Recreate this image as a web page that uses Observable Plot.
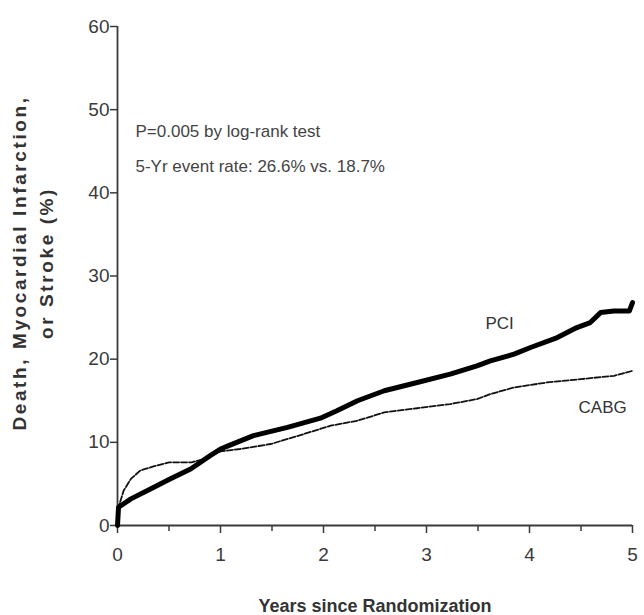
<!DOCTYPE html>
<html>
<head>
<meta charset="utf-8">
<script src="https://cdn.jsdelivr.net/npm/d3@7"></script>
<script src="https://cdn.jsdelivr.net/npm/@observablehq/plot@0.6"></script>
<style>
  html, body { margin: 0; padding: 0; background: #fff; }
  #chart svg { display: block; }
</style>
</head>
<body>
<div id="chart"></div>
<script>
// Years since randomization and cumulative event rate (%)
const pciYears = [0, 0.01, 0.13, 0.32, 0.51, 0.71, 0.90, 1.0, 1.08, 1.32, 1.65, 1.97, 2.13, 2.33, 2.59, 2.91, 3.23, 3.49, 3.62, 3.85, 4.01, 4.27, 4.46, 4.59, 4.69, 4.82, 4.97, 5.0];
const pciRate  = [0, 2.2, 3.2, 4.4, 5.6, 6.8, 8.4, 9.2, 9.6, 10.8, 11.8, 12.9, 13.8, 15.0, 16.2, 17.2, 18.2, 19.2, 19.8, 20.6, 21.4, 22.6, 23.8, 24.4, 25.6, 25.8, 25.8, 26.8];

const cabgYears = [0, 0.01, 0.06, 0.13, 0.22, 0.35, 0.50, 0.72, 0.85, 1.0, 1.19, 1.49, 1.81, 2.07, 2.33, 2.59, 2.91, 3.23, 3.49, 3.62, 3.85, 4.17, 4.50, 4.82, 5.0];
const cabgRate  = [0, 2.2, 4.2, 5.6, 6.6, 7.1, 7.6, 7.6, 8.0, 8.9, 9.2, 9.8, 11.0, 12.0, 12.6, 13.6, 14.1, 14.6, 15.2, 15.8, 16.6, 17.2, 17.6, 18.0, 18.6];

const xTicks = [0, 1, 2, 3, 4, 5];
const xMinorTicks = [0.5, 1.5, 2.5, 3.5, 4.5];
const yTicks = [0, 10, 20, 30, 40, 50, 60];

const seriesNames = ["PCI", "CABG"];
const yLabelLines = ["Death, Myocardial Infarction,", "or Stroke (%)"];
const xLabel = "Years since Randomization";
const annotationLines = ["P=0.005 by log-rank test", "5-Yr event rate: 26.6% vs. 18.7%"];

const pci = pciYears.map((t, i) => ({t, v: pciRate[i]}));
const cabg = cabgYears.map((t, i) => ({t, v: cabgRate[i]}));

const font = "'Liberation Sans', Arial, sans-serif";
const ink = "#3a3a3a";

const chart = Plot.plot({
  width: 644,
  height: 615,
  marginLeft: 117,
  marginRight: 12,
  marginTop: 26,
  marginBottom: 90,
  x: {domain: [0, 5]},
  y: {domain: [0, 60]},
  style: {fontFamily: font, fontSize: "19px", color: ink, background: "#fff"},
  marks: [
    Plot.axisY({ticks: yTicks, tickSize: 7, tickPadding: 1, label: null, stroke: ink, strokeWidth: 1.5}),
    Plot.axisX({ticks: xTicks, tickSize: 8, tickPadding: 14, tickFormat: d3.format("d"), label: null, stroke: ink, strokeWidth: 1.5}),
    Plot.axisX({ticks: xMinorTicks, tickSize: 6, tickFormat: () => "", label: null, stroke: ink, strokeWidth: 1.5}),
    Plot.ruleX([0], {stroke: ink, strokeWidth: 1.8}),
    Plot.ruleY([0], {stroke: ink, strokeWidth: 1.8}),
    Plot.line(cabg, {x: "t", y: "v", stroke: "#111", strokeWidth: 1.8, strokeDasharray: "6,2"}),
    Plot.line(pci, {x: "t", y: "v", stroke: "#000", strokeWidth: 5, strokeLinejoin: "round"}),
    Plot.text([seriesNames[0]], {x: 3.71, y: 24.3, text: d => d, fontSize: 17, fill: "#333"}),
    Plot.text([seriesNames[1]], {x: 4.71, y: 14.2, text: d => d, fontSize: 17, fill: "#333"}),
    Plot.text([annotationLines[0]], {frameAnchor: "top-left", dx: 18, dy: 105, lineAnchor: "middle", textAnchor: "start", text: d => d, fontSize: 17, fill: "#444"}),
    Plot.text([annotationLines[1]], {frameAnchor: "top-left", dx: 18, dy: 140, lineAnchor: "middle", textAnchor: "start", text: d => d, fontSize: 17, fill: "#444"}),
    Plot.text([yLabelLines[0]], {frameAnchor: "left", dx: -98, dy: -13, rotate: -90, textAnchor: "middle", lineAnchor: "middle", text: d => d, fontSize: 19, fontWeight: "bold", fill: "#333"}),
    Plot.text([yLabelLines[1]], {frameAnchor: "left", dx: -71, dy: -13, rotate: -90, textAnchor: "middle", lineAnchor: "middle", text: d => d, fontSize: 19, fontWeight: "bold", fill: "#333"}),
    Plot.text([xLabel], {frameAnchor: "bottom", dy: 86, text: d => d, fontSize: 18, fontWeight: "bold", fill: "#333"})
  ]
});
// widen the letter spacing of the y-axis title, as in the original figure
d3.select(chart).selectAll("text")
  .filter(function() { return yLabelLines.includes(this.textContent); })
  .attr("letter-spacing", "2.6px");
document.getElementById("chart").appendChild(chart);
</script>
</body>
</html>
